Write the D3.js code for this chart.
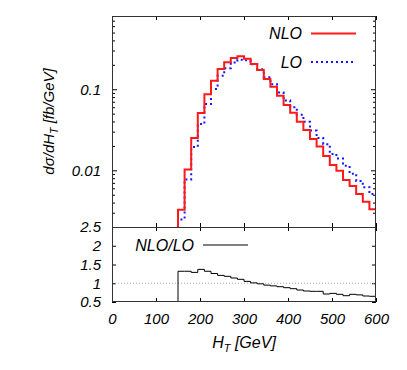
<!DOCTYPE html>
<html><head><meta charset="utf-8">
<script src="https://cdn.jsdelivr.net/npm/d3@7"></script>
<style>
html,body{margin:0;padding:0;background:#fff;}
text{font-family:"Liberation Sans",Arial,Helvetica,sans-serif;font-style:italic;fill:#000;}
</style></head>
<body><svg id="c" width="407" height="370"></svg>
<script>
// ---- data ----
const binEdges = [150,165,180,195,210,225,240,255,270,285,300,315,330,345,360,375,390,405,420,435,450,465,480,495,510,525,540,555,570,585,600];
const nloValues = [0.00327,0.0102,0.025,0.051,0.0866,0.127,0.178,0.215,0.243,0.255,0.238,0.205,0.173,0.134,0.107,0.083,0.0639,0.0514,0.0398,0.0314,0.0243,0.0196,0.0150,0.0116,0.0099,0.0076,0.0064,0.0051,0.0041,0.0033];
const loValues  = [0.00248,0.00773,0.0194,0.0372,0.0656,0.1008,0.147,0.181,0.213,0.231,0.227,0.203,0.176,0.141,0.115,0.0914,0.0724,0.0601,0.0485,0.0396,0.031,0.025,0.021,0.0159,0.014,0.0114,0.0091,0.0074,0.0062,0.0051];
const ratioValues = [1.32,1.32,1.29,1.37,1.32,1.26,1.21,1.185,1.14,1.105,1.05,1.01,0.985,0.95,0.93,0.908,0.882,0.855,0.82,0.793,0.785,0.785,0.713,0.73,0.705,0.668,0.705,0.69,0.66,0.652];
const xTicks = [0,100,200,300,400,500,600];
const yMajorTicks = [0.01,0.1];
const yMinorTicks = [0.002,0.003,0.004,0.005,0.006,0.007,0.008,0.009,0.02,0.03,0.04,0.05,0.06,0.07,0.08,0.09,0.2,0.3,0.4,0.5,0.6,0.7,0.8];
const ratioTicks = [0.5,1,1.5,2,2.5];
const yDomain = [0.002,0.8];
const ratioDomain = [0.5,2.5];
const xDomain = [0,600];

// ---- layout ----
const L=112, R=376, T=16, M=227, B=302;
const svg = d3.select("#c");
const x = d3.scaleLinear().domain(xDomain).range([L,R]);
const y = d3.scaleLog().domain(yDomain).range([M,T]);
const yr = d3.scaleLinear().domain(ratioDomain).range([B,M]);

function stepPts(vals, startY){
  const pts=[[binEdges[0], startY]];
  vals.forEach((v,i)=>{pts.push([binEdges[i],v]);pts.push([binEdges[i+1],v]);});
  return pts;
}
const fmtAxis = g => { g.select(".domain").remove(); g.selectAll("line").attr("stroke","#000"); };

// upper panel axes
svg.append("g").attr("transform",`translate(${L},0)`)
  .call(d3.axisLeft(y).tickValues(yMajorTicks).tickSize(-5).tickPadding(11).tickFormat(d3.format("")))
  .call(fmtAxis).call(g=>g.selectAll("text").attr("font-size",15).attr("font-family",null));
svg.append("g").attr("transform",`translate(${L},0)`)
  .call(d3.axisLeft(y).tickValues(yMinorTicks).tickSize(-3).tickFormat(""))
  .call(fmtAxis);
svg.append("g").attr("transform",`translate(${R},0)`)
  .call(d3.axisRight(y).tickValues(yMajorTicks).tickSize(-5).tickFormat(""))
  .call(fmtAxis);
svg.append("g").attr("transform",`translate(${R},0)`)
  .call(d3.axisRight(y).tickValues(yMinorTicks).tickSize(-3).tickFormat(""))
  .call(fmtAxis);
svg.append("g").attr("transform",`translate(0,${T})`)
  .call(d3.axisTop(x).tickValues(xTicks).tickSize(-4).tickFormat("")).call(fmtAxis);
svg.append("g").attr("transform",`translate(0,${M})`)
  .call(d3.axisBottom(x).tickValues(xTicks).tickSize(-4).tickFormat("")).call(fmtAxis);

// lower panel axes
svg.append("g").attr("transform",`translate(${L},0)`)
  .call(d3.axisLeft(yr).tickValues(ratioTicks).tickSize(-4).tickPadding(11).tickFormat(d3.format("")))
  .call(fmtAxis).call(g=>g.selectAll("text").attr("font-size",15).attr("font-family",null));
svg.append("g").attr("transform",`translate(${R},0)`)
  .call(d3.axisRight(yr).tickValues(ratioTicks).tickSize(-4).tickFormat("")).call(fmtAxis);
svg.append("g").attr("transform",`translate(0,${M})`)
  .call(d3.axisTop(x).tickValues(xTicks).tickSize(-4).tickFormat("")).call(fmtAxis);
svg.append("g").attr("transform",`translate(0,${B})`)
  .call(d3.axisBottom(x).tickValues(xTicks).tickSize(-4).tickPadding(11).tickFormat(d3.format("")))
  .call(fmtAxis).call(g=>g.selectAll("text").attr("font-size",15).attr("font-family",null));

// ratio = 1 reference
svg.append("line").attr("x1",L).attr("x2",R).attr("y1",yr(1)).attr("y2",yr(1))
  .attr("stroke","#aaa").attr("stroke-width",1).attr("stroke-dasharray","1,2");

// clip for upper
svg.append("clipPath").attr("id","cu").append("rect").attr("x",L).attr("y",T).attr("width",R-L).attr("height",M-T+1);

const lineU = d3.line().x(d=>x(d[0])).y(d=>d[1]===null?M:y(d[1]));
const gU = svg.append("g").attr("clip-path","url(#cu)");
const nloPts = stepPts(nloValues,null); nloPts.push([binEdges[binEdges.length-1],null]);
const loPts = stepPts(loValues,null); loPts.push([binEdges[binEdges.length-1],null]);
gU.append("path").attr("d",lineU(loPts)).attr("fill","none").attr("stroke","#1515ff").attr("stroke-width",2).attr("stroke-dasharray","2,3");
gU.append("path").attr("d",lineU(nloPts)).attr("fill","none").attr("stroke","#ff1a1a").attr("stroke-width",2);

const lineR = d3.line().x(d=>x(d[0])).y(d=>yr(d[1]));
svg.append("path").attr("d",lineR(stepPts(ratioValues,ratioDomain[0]))).attr("fill","none").attr("stroke","#000").attr("stroke-width",1);

// frames
svg.append("rect").attr("x",L+0.5).attr("y",T+0.5).attr("width",R-L-1).attr("height",M-T).attr("fill","none").attr("stroke","#333");
svg.append("rect").attr("x",L+0.5).attr("y",M+0.5).attr("width",R-L-1).attr("height",B-M-1).attr("fill","none").attr("stroke","#333");

// legends
const lg = svg.append("g");
lg.append("text").attr("x",302).attr("y",33.5).attr("dy","0.36em").attr("text-anchor","end").attr("font-size",16).text("NLO");
lg.append("line").attr("x1",311).attr("x2",356).attr("y1",33.5).attr("y2",33.5).attr("stroke","#ff1a1a").attr("stroke-width",2);
lg.append("text").attr("x",302).attr("y",62).attr("dy","0.36em").attr("text-anchor","end").attr("font-size",16).text("LO");
lg.append("line").attr("x1",311).attr("x2",356).attr("y1",62).attr("y2",62).attr("stroke","#1515ff").attr("stroke-width",2).attr("stroke-dasharray","2,3");
lg.append("text").attr("x",194).attr("y",245).attr("dy","0.36em").attr("text-anchor","end").attr("font-size",16).text("NLO/LO");
lg.append("line").attr("x1",203).attr("x2",248).attr("y1",245).attr("y2",245).attr("stroke","#000").attr("stroke-width",1);

// axis titles
const xl = svg.append("text").attr("x",(L+R)/2).attr("y",348).attr("text-anchor","middle").attr("font-size",16);
xl.append("tspan").text("H");
xl.append("tspan").attr("dy",4).attr("font-size",11).text("T");
xl.append("tspan").attr("dy",-4).text(" [GeV]");

const yl = svg.append("text").attr("transform",`translate(54,${(T+M)/2}) rotate(-90)`).attr("text-anchor","middle").attr("font-size",15);
yl.append("tspan").text("dσ/dH");
yl.append("tspan").attr("dy",4).attr("font-size",10.5).text("T");
yl.append("tspan").attr("dy",-4).text(" [fb/GeV]");
</script></body></html>
